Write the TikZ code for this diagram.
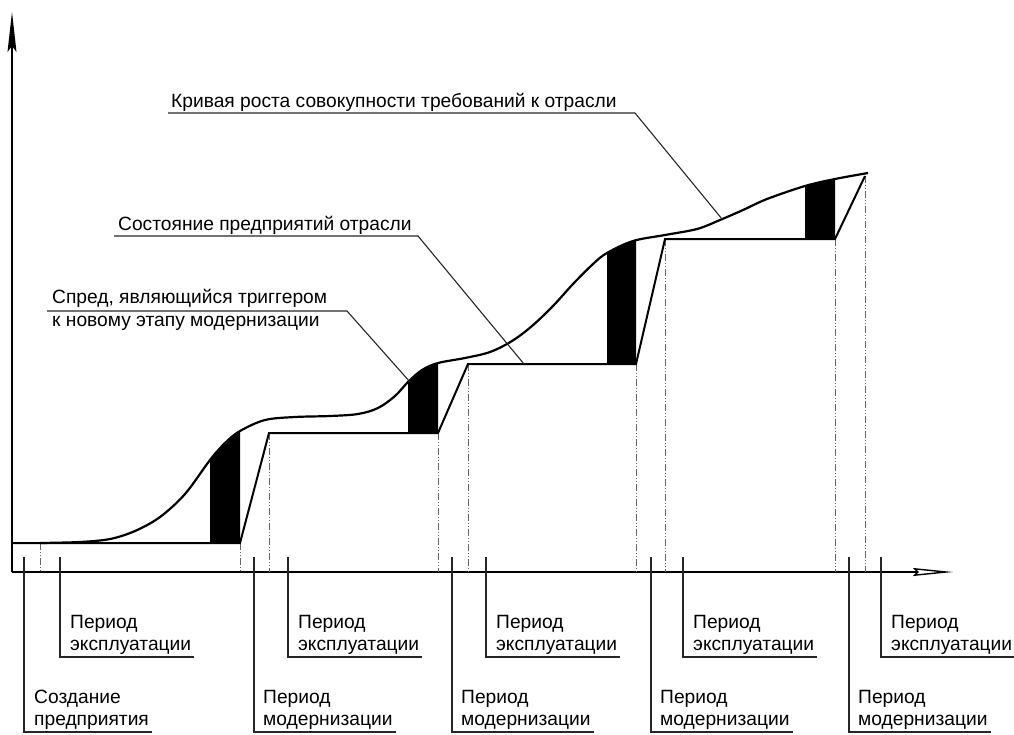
\documentclass[tikz,border=0pt]{standalone}
\usepackage{fontspec}
\setmainfont{Liberation Sans}
\usetikzlibrary{arrows.meta}
\begin{document}
\begin{tikzpicture}[x=1pt,y=-1pt,
  lab/.style={font=\fontsize{19.2}{22}\selectfont, inner sep=0pt, anchor=base west},
  stepline/.style={line width=2pt, line join=miter},
  curveline/.style={line width=2.2pt},
  leader/.style={line width=1.1pt, draw=black!85},
  dd/.style={line width=1pt, draw=black!60, dash pattern=on 7pt off 2pt on 1pt off 2pt on 1pt off 2pt},
  axis/.style={line width=1.4pt}]
\useasboundingbox (0,0) rectangle (1014,734);
\def\curve{plot[smooth,tension=0.55] coordinates {(40,543) (80,542) (110,539) (135,531) (160,517) (185,494) (210,460) (225,443) (240,431) (265,420) (295,417) (330,416) (358,414) (378,408) (395,396) (408,382) (422,370) (438,363) (465,358) (490,352) (512,341) (532,326) (553,306) (573,284) (593,264) (607,253) (633,241) (665,235) (697,229) (720,220) (743,210) (767,199) (805,186) (835,179) (868,173)}}
% black spreads
\begin{scope}\clip (210,543) rectangle (240,300); \fill \curve -- (868,620) -- (40,620) -- cycle; \end{scope}
\begin{scope}\clip (408,433) rectangle (438,300); \fill \curve -- (868,620) -- (40,620) -- cycle; \end{scope}
\begin{scope}\clip (607,364) rectangle (636,200); \fill \curve -- (868,620) -- (40,620) -- cycle; \end{scope}
\begin{scope}\clip (805,239) rectangle (835,150); \fill \curve -- (868,620) -- (40,620) -- cycle; \end{scope}
% axes
\coordinate (O) at (12,572);
\coordinate (Ytop) at (12,12);
\coordinate (Xend) at (953,572);
\draw[axis, -{Stealth[length=40pt,width=9pt,inset=6pt]}] (O) -- (Ytop);
\draw[axis, -{Stealth[open,length=40pt,width=8pt,inset=4pt]}] (O) -- (Xend);
% dash-dot verticals
\foreach \x/\y in {40/543, 240/543, 269/433, 438/433, 468/364, 636/364, 665/239, 835/239, 865/176}
  \draw[dd] (\x,\y) -- (\x,572);
% curve
\draw[curveline] \curve;
% state of enterprises (steps)
\coordinate (s0) at (12,543);
\draw[stepline] (s0) -- (240,543) -- (269,433) -- (438,433) -- (468,364) -- (636,364) -- (665,239) -- (835,239) -- (865,176);
% top labels
\node[lab] (tk) at (171,107) {Кривая роста совокупности требований к отрасли};
\coordinate (tk1) at (168,113); \coordinate (tk2) at (635,113); \coordinate (tk3) at (722,219);
\draw[leader] (tk1) -- (tk2) -- (tk3);
\node[lab] (ts) at (118,230) {Состояние предприятий отрасли};
\coordinate (ts1) at (114,236); \coordinate (ts2) at (418,236); \coordinate (ts3) at (524,364);
\draw[leader] (ts1) -- (ts2) -- (ts3);
\node[lab] (sp1) at (52,303) {Спред, являющийся триггером};
\node[lab] (sp2) at (52,326) {к новому этапу модернизации};
\coordinate (sp3) at (47,311); \coordinate (sp4) at (347,311); \coordinate (sp5) at (410,382);
\draw[leader] (sp3) -- (sp4) -- (sp5);
% bottom labels: exploitation
\foreach \n/\x in {e1/60, e2/288, e3/486, e4/683, e5/881} {
  \node[lab] (\n a) at (\x+10,628) {Период};
  \node[lab] (\n b) at (\x+10,650) {эксплуатации};
  \coordinate (\n t) at (\x,557);
  \coordinate (\n u) at (\x,657);
  \draw[leader] (\n t) -- (\n u) -- ([xshift=3pt]\n b.east |- \n u);
}
% bottom labels: modernization
\node[lab] (m0a) at (34,703) {Создание};
\node[lab] (m0b) at (34,725) {предприятия};
\coordinate (m0t) at (24,557); \coordinate (m0u) at (24,732);
\draw[leader] (m0t) -- (m0u) -- ([xshift=3pt]m0b.east |- m0u);
\foreach \n/\x in {m1/254, m2/452, m3/651, m4/849} {
  \node[lab] (\n a) at (\x+9,703) {Период};
  \node[lab] (\n b) at (\x+9,725) {модернизации};
  \coordinate (\n t) at (\x,557);
  \coordinate (\n u) at (\x,732);
  \draw[leader] (\n t) -- (\n u) -- ([xshift=3pt]\n b.east |- \n u);
}
\end{tikzpicture}
\end{document}
